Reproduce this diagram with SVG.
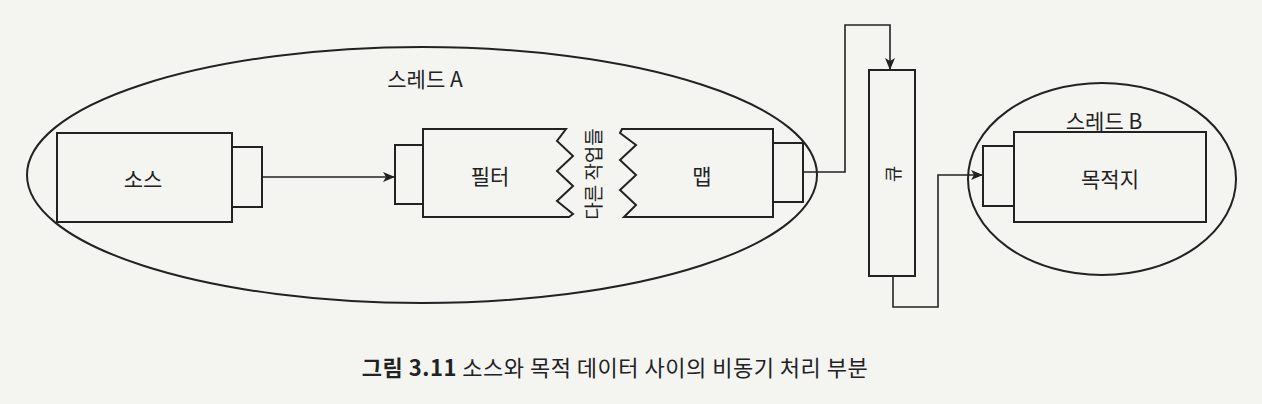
<svg xmlns="http://www.w3.org/2000/svg" width="1262" height="404" viewBox="0 0 1262 404">
<defs>
<marker id="ah" viewBox="0 0 12 10" refX="12" refY="5" markerWidth="12" markerHeight="10" markerUnits="userSpaceOnUse" orient="auto">
<path d="M0,0 L12,5 L0,10 L3,5 Z" fill="#222"/>
</marker>
</defs>
<style>
.s{fill:none;stroke:#222;stroke-width:2}
.b{fill:#f4f4f1;stroke:#222;stroke-width:2}
.t{font-family:"Noto Sans CJK KR","Noto Sans",sans-serif;font-size:21px;fill:#222;text-anchor:middle;dominant-baseline:central}
.c{fill:none;stroke:#222;stroke-width:1.6}
</style>
<rect width="1262" height="404" fill="#f4f4f1"/>
<g id="threadA">
<ellipse class="s" cx="422" cy="175" rx="395" ry="128"/>
<text class="t" x="425" y="78">스레드 A</text>
</g>
<g id="threadB">
<ellipse class="s" cx="1102" cy="179" rx="134" ry="96"/>
<text class="t" x="1104" y="120">스레드 B</text>
</g>
<g id="source">
<rect class="b" x="57" y="133" width="175" height="89"/>
<rect class="b" x="232" y="147" width="30" height="60"/>
<text class="t" x="143" y="178">소스</text>
</g>
<g id="filter">
<rect class="b" x="395" y="145" width="28" height="59"/>
<path class="b" d="M423,129 L566,129 L557,141 L573,156 L557,171 L573,186 L557,201 L573,214 L569,217 L423,217 Z"/>
<text class="t" x="490" y="175">필터</text>
</g>
<g id="otherwork">
<text class="t" transform="translate(592,174) rotate(-90)" style="font-size:19px">다른 작업들</text>
</g>
<g id="map">
<path class="b" d="M622,129 L773,129 L773,217 L624,217 L636,205 L620,190 L636,175 L620,160 L636,145 L620,133 Z"/>
<rect class="b" x="773" y="143" width="30" height="59"/>
<text class="t" x="702" y="175">맵</text>
</g>
<g id="queue">
<rect class="b" x="869" y="70" width="46" height="206"/>
<text class="t" transform="translate(892,174) rotate(-90)" style="font-size:18px">큐</text>
</g>
<g id="dest">
<rect class="b" x="983" y="146" width="31" height="60"/>
<rect class="b" x="1014" y="132" width="192" height="90"/>
<text class="t" x="1110" y="178">목적지</text>
</g>
<g id="connectors">
<path class="c" d="M262,177 L395,177" marker-end="url(#ah)"/>
<path class="c" d="M803,172 L845,172 L845,25 L890,25 L890,70" marker-end="url(#ah)"/>
<path class="c" d="M893,276 L893,307 L938,307 L938,175 L983,175" marker-end="url(#ah)"/>
</g>
<g id="caption">
<text x="615" y="366" style="font-family:'Noto Sans CJK KR','Noto Sans',sans-serif;font-size:22px;letter-spacing:0.5px;fill:#222;text-anchor:middle;dominant-baseline:central"><tspan font-weight="bold">그림 3.11</tspan> 소스와 목적 데이터 사이의 비동기 처리 부분</text>
</g>
</svg>
